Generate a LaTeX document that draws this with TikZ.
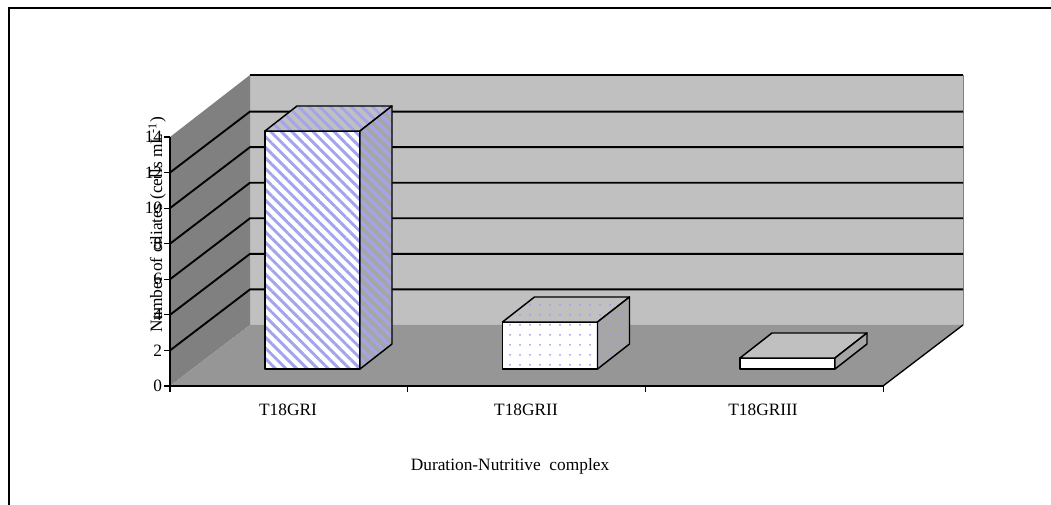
\documentclass[tikz,border=0pt]{standalone}
\usepackage{fontspec}
\setmainfont{Liberation Serif}
\usetikzlibrary{patterns.meta}

\definecolor{wallgray}{HTML}{C0C0C0}
\definecolor{sidegray}{HTML}{808080}
\definecolor{floorgray}{HTML}{969696}
\definecolor{topgray}{HTML}{C0C0C0}
\definecolor{flankgray}{HTML}{A6A6A6}
\definecolor{hatchblue}{HTML}{A4A4EE}
\definecolor{dotblue}{HTML}{9C9CF0}

\tikzset{
  gridline/.style={line width=1.4pt},
  barface/.style={draw, line width=1.1pt, line join=round},
  stripes/.style={barface, preaction={fill=#1},
    pattern={Lines[angle=-45,distance=5.6pt,line width=2.2pt]}, pattern color=hatchblue},
  specks/.style={barface, preaction={fill=#1},
    pattern={Dots[radius=0.75pt,distance=7.5pt]}, pattern color=dotblue},
  plain/.style={barface, fill=#1}
}

% bar: x of front left corner, height, front, top and side styles
\newcommand{\barbox}[5]{%
  \path[#3] (#1,369) rectangle ++(95,-#2);
  \path[#4] (#1,369-#2) -- ++(32,-25) -- ++(95,0) -- ++(-32,25) -- cycle;
  \path[#5] (#1+95,369) -- ++(32,-25) -- ++(0,-#2) -- ++(-32,25) -- cycle;
}

\begin{document}
\begin{tikzpicture}[x=0.75pt,y=-0.75pt,font=\fontsize{13}{15}\selectfont]
		\useasboundingbox (0,0) rectangle (1051,505);
		% frame
		\draw[line width=0.9pt] (9,505) -- (9,8) -- (1051,8);
		
		% walls and floor
		\fill[wallgray] (250,75) rectangle (963,325);
		\draw[gray, line width=0.6pt] (963,75) -- (963,325);
		\fill[sidegray] (170,386) -- (170,137) -- (250,75) -- (250,325) -- cycle;
		\fill[floorgray] (170,386) -- (883,386) -- (963,325) -- (250,325) -- cycle;
		
		% grid
		\foreach \k in {1,...,6}
		\draw[gridline] (170,{386-35.57*\k}) -- ++(80,-61) -- (963,{325-35.57*\k});
		\draw[gridline] (250,75) -- (963,75);
		\draw[line width=1pt] (883,386) -- (963,325);
		
		% bars
		\barbox{265}{238}{stripes=white}{stripes=topgray}{stripes=flankgray}
		\barbox{502.5}{47}{specks=white}{specks=topgray}{specks=flankgray}
		\barbox{740}{11}{plain=white}{plain=topgray}{plain=flankgray}
		
		% axes
		\draw[line width=1pt] (170,137) -- (170,386) -- (883,386);
		\foreach \k in {0,...,7}{
		\pgfmathtruncatemacro{\val}{2*\k}
		\draw[line width=0.8pt] (170,{386-35.57*\k}) -- ++(-6,0)
		node[anchor=east, inner sep=1pt] (tick\k) {\val};
		}
		\foreach \i in {0,...,3}
		\draw[line width=0.8pt] ({170+237.7*\i},386) -- ++(0,6);
		
		% labels
		\node (gr1) at (288,410) {T18GRI};
		\node (gr2) at (526,410) {T18GRII};
		\node (gr3) at (763,410) {T18GRIII};
		\node (xtitle) at (510,466) {Duration-Nutritive\ \ complex};
		\node[rotate=90] (ytitle) at (157,225) {Number of ciliates (cells mL\textsuperscript{-1})};
		\end{tikzpicture}
\end{document}
